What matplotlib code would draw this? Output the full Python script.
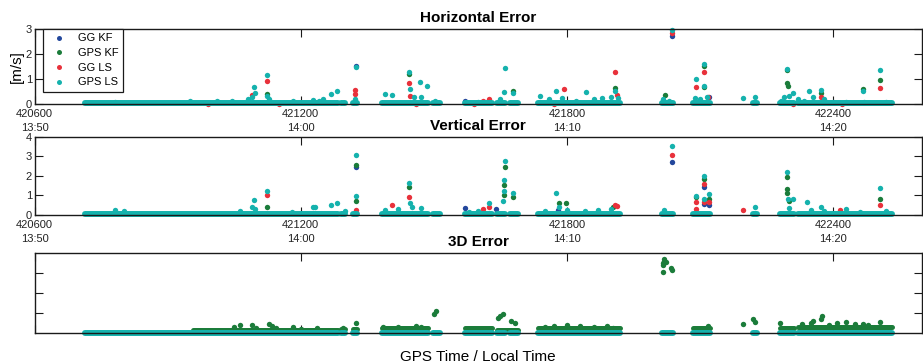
import matplotlib
matplotlib.use("Agg")
import matplotlib.pyplot as plt
from matplotlib.lines import Line2D

plt.rcParams['font.family'] = ['Liberation Sans', 'DejaVu Sans']

# ---------------- data ----------------
XLIM = (420600, 422600)
xticks = [420600, 421200, 421800, 422400]
xticklabels = ["420600\n13:50", "421200\n14:00", "421800\n14:10", "422400\n14:20"]

series_names = ["GG KF", "GPS KF", "GG LS", "GPS LS"]
series_colors = ["#23479c", "#1b7c3a", "#e8313b", "#15b2ad"]

# time intervals with continuous near-zero solutions (GPS seconds)
cover_start = [420713, 421290, 421317, 421383, 421498, 421570, 421642, 421671,
               421734, 422014, 422084, 422196, 422219, 422280, 422320]
cover_end = [421284, 421299, 421326, 421486, 421514, 421631, 421660, 421689,
             421919, 422039, 422122, 422198, 422228, 422313, 422534]
base_h = 0.04
base_v = 0.05
base_3d = 0.0

# 3D GPS KF near-baseline band: intervals and levels
g3_start = [420957, 421290, 421317, 421383, 421570, 421642, 421734, 422084, 422280, 422320]
g3_end = [421284, 421299, 421326, 421486, 421631, 421689, 421919, 422122, 422313, 422534]
g3_level = [0.12, 0.18, 0.18, 0.22, 0.24, 0.12, 0.26, 0.26, 0.22, 0.27]

# ---- Horizontal error ----
h_ggkf_t = [421324, 422037, 422120, 421571]
h_ggkf_v = [1.52, 2.72, 0.28, 0.15]

h_gpskf_t = [421124, 421444, 421679, 421908, 422021, 422109, 422109, 422296, 422296,
             422298, 422374, 422467, 422507]
h_gpskf_v = [0.40, 1.21, 0.54, 0.66, 0.37, 1.54, 0.68, 1.37, 0.84, 0.73, 0.44, 0.61, 0.955]

h_ggls_t = [421090, 421124, 421322, 421322, 421444, 421446, 421794, 421908, 421912,
            422037, 422090, 422109, 422374, 422507, 421610, 421625, 422118,
            420990, 421150, 421460, 421590, 421770, 422310, 422420]
h_ggls_v = [0.37, 0.93, 0.57, 0.40, 0.86, 0.33, 0.60, 1.30, 0.36, 2.83, 0.68, 1.30,
            0.28, 0.64, 0.15, 0.20, 0.30,
            0.02, 0.03, 0.02, 0.03, 0.02, 0.02, 0.02]

h_gpsls_t = [421094, 421097, 421124, 421124, 421324, 421322, 421389, 421405, 421444,
             421446, 421468, 421485, 421661, 421658, 421679, 421740, 421776, 421842,
             421908, 422037, 422090, 422109, 422109, 422310, 422296, 422346, 422374,
             422467, 422507,
             421080, 421089, 421129, 421182, 421227, 421240, 421250, 421267, 421282,
             421455, 421470, 421502, 421600, 421650, 421760, 421790, 421820, 421860,
             421880, 421900, 421915, 422017, 422030, 422088, 422100, 422115, 422197,
             422223, 422282, 422290, 422300, 422320, 422335, 422355, 422380, 422400,
             422430, 422470, 422520, 420780, 420950, 421010, 421045]
h_gpsls_v = [0.70, 0.46, 1.155, 0.35, 1.50, 0.21, 0.41, 0.37, 1.30,
             0.61, 0.90, 0.74, 1.46, 0.49, 0.46, 0.33, 0.54, 0.50,
             0.54, 2.98, 0.995, 1.59, 0.74, 0.44, 1.41, 0.53, 0.57,
             0.54, 1.37,
             0.20, 0.28, 0.20, 0.12, 0.18, 0.15, 0.20, 0.40, 0.54,
             0.30, 0.28, 0.15, 0.10, 0.20, 0.20, 0.25, 0.15, 0.20,
             0.25, 0.30, 0.25, 0.20, 0.15, 0.25, 0.20, 0.30, 0.25,
             0.30, 0.15, 0.30, 0.35, 0.20, 0.15, 0.30, 0.20, 0.10,
             0.10, 0.10, 0.10, 0.10, 0.12, 0.12, 0.15]

# ---- Vertical error ----
v_ggkf_t = [421324, 421571, 421641, 421780, 422037, 422109, 422109, 422120]
v_ggkf_v = [2.47, 0.34, 0.30, 0.26, 2.69, 1.44, 0.56, 0.53]

v_gpskf_t = [421124, 421324, 421324, 421444, 421660, 421658, 421658, 421679, 421782,
             421799, 421904, 422090, 422109, 422120, 422296, 422296, 422296, 422300,
             422507]
v_gpskf_v = [0.39, 2.55, 0.73, 1.41, 2.43, 1.53, 1.00, 0.90, 0.63,
             0.63, 0.39, 0.90, 1.84, 0.82, 1.96, 1.33, 1.11, 0.71,
             0.82]

v_ggls_t = [421124, 421324, 421405, 421444, 421610, 421625, 421908, 421912, 422037,
            422090, 422090, 422109, 422109, 422120, 422197, 422415, 422507]
v_ggls_v = [1.02, 0.28, 0.51, 0.90, 0.30, 0.42, 0.51, 0.45, 3.06,
            0.68, 0.30, 1.58, 0.68, 0.68, 0.26, 0.25, 0.51]

v_gpsls_t = [421094, 421124, 420781, 420801, 421227, 421324, 421324, 421231, 421267,
             421282, 421444, 421446, 421450, 421470, 421625, 421660, 421658, 421658,
             421656, 421679, 421776, 421782, 422037, 422090, 422109, 422109, 422120,
             422223, 422296, 422298, 422310, 422341, 422374, 422507, 422430,
             421063, 421090, 421097, 421180, 421300, 421390, 421420, 421580, 421600,
             421750, 421800, 421840, 421870, 421900, 422020, 422300, 422350, 422380,
             422460, 422520]
v_gpsls_v = [0.77, 1.22, 0.26, 0.22, 0.39, 3.08, 0.97, 0.39, 0.51,
             0.60, 1.62, 0.63, 0.40, 0.35, 0.63, 2.75, 1.79, 1.24,
             0.71, 1.11, 1.11, 0.40, 3.54, 0.97, 2.00, 0.80, 1.05,
             0.39, 2.21, 0.82, 0.82, 0.68, 0.39, 1.36, 0.30,
             0.20, 0.40, 0.30, 0.15, 0.20, 0.25, 0.30, 0.15, 0.20,
             0.20, 0.25, 0.20, 0.25, 0.30, 0.25, 0.35, 0.25, 0.20,
             0.15, 0.20]

# ---- 3D error ----
d_gpskf_t = [421063, 421089, 421129, 421182, 421236, 421295, 421324, 421386, 421504,
             421501, 421645, 421649, 421656, 421675, 421682, 421904, 422018, 422017,
             422016, 422017, 422020, 422024, 422034, 422038, 422118, 422197, 422220,
             422225, 422280, 422355, 422374, 422376, 422430, 422467, 422507,
             421050, 421100, 421135, 421145, 421200, 421420, 421460, 421470, 421750,
             421770, 421800, 421830, 421860, 421890, 422330, 422350, 422390, 422410,
             422450, 422480]
d_gpskf_v = [0.39, 0.39, 0.44, 0.27, 0.25, 0.22, 0.47, 0.27, 1.09,
             0.94, 0.72, 0.84, 0.94, 0.60, 0.47, 0.25, 3.70, 3.50,
             3.41, 3.07, 3.63, 3.58, 3.24, 3.16, 0.35, 0.42, 0.67,
             0.55, 0.47, 0.60, 0.67, 0.84, 0.55, 0.42, 0.55,
             0.30, 0.25, 0.35, 0.25, 0.20, 0.30, 0.35, 0.30, 0.30,
             0.35, 0.40, 0.35, 0.30, 0.35, 0.45, 0.50, 0.40, 0.50,
             0.45, 0.40]

# ---------------- figure ----------------
W, H = 923, 363
fig = plt.figure(figsize=(W / 100, H / 100), dpi=100)

left = 34.7 / W
width = (921.7 - 34.7) / W
def pos(top_px, bot_px):
    return [left, 1 - bot_px / H, width, (bot_px - top_px) / H]

ax1 = fig.add_axes(pos(29.0, 104.3))
ax2 = fig.add_axes(pos(136.7, 215.0))
ax3 = fig.add_axes(pos(253.3, 332.7))

S = 15
BAND_LW = 4.3
spine_col = "#1a1a1a"

def style(ax, ylim, yticks, ylabels, show_x=True):
    ax.set_xlim(*XLIM)
    ax.set_ylim(*ylim)
    ax.set_xticks(xticks)
    if show_x:
        ax.set_xticklabels(xticklabels)
        for lab in ax.get_xticklabels():
            lab.set_linespacing(1.5)
    else:
        ax.set_xticklabels([])
    ax.set_yticks(yticks)
    if ylabels is None:
        ax.set_yticklabels([])
    ax.tick_params(direction='in', length=5.5, width=0.8, top=True, right=True,
                   labelsize=8, colors=spine_col, labelcolor="#222222")
    ax.tick_params(axis='x', pad=3.5)
    ax.tick_params(axis='y', pad=2)
    for sp in ax.spines.values():
        sp.set_linewidth(1.0)
        sp.set_color(spine_col)
        sp.set_zorder(7)

def band(ax, starts, ends, level, color, z, lw=BAND_LW):
    if isinstance(level, (int, float)):
        level = [level] * len(starts)
    lc = ax.hlines(level, starts, ends, colors=color, linewidth=lw,
                   capstyle='round', zorder=z)
    lc.set_clip_on(False)

c_b, c_g, c_r, c_c = series_colors

# Horizontal
ax1.scatter(h_ggkf_t, h_ggkf_v, s=S, c=c_b, linewidths=0, zorder=3, clip_on=False)
ax1.scatter(h_gpskf_t, h_gpskf_v, s=S, c=c_g, linewidths=0, zorder=4, clip_on=False)
ax1.scatter(h_ggls_t, h_ggls_v, s=S, c=c_r, linewidths=0, zorder=5, clip_on=False)
band(ax1, cover_start, cover_end, base_h, c_c, 5.5)
ax1.scatter(h_gpsls_t, h_gpsls_v, s=S, c=c_c, linewidths=0, zorder=6, clip_on=False)
style(ax1, (0, 3), [0, 1, 2, 3], True)
ax1.set_title("Horizontal Error", fontsize=11, fontweight='bold', pad=5)
ax1.set_ylabel("[m/s]", fontsize=11, labelpad=1)

handles = [Line2D([], [], linestyle='none', marker='o', markersize=3.6,
                  markerfacecolor=c, markeredgewidth=0) for c in series_colors]
leg = ax1.legend(handles, series_names, loc='upper left',
                 bbox_to_anchor=(0.0097, 1.0), borderaxespad=0, fontsize=8,
                 frameon=True, fancybox=False, edgecolor=spine_col,
                 framealpha=1, labelspacing=0.42, handlelength=2.0,
                 handletextpad=0.7, borderpad=0.4)
leg.get_frame().set_linewidth(0.9)
leg.set_zorder(10)

# Vertical
ax2.scatter(v_ggkf_t, v_ggkf_v, s=S, c=c_b, linewidths=0, zorder=3, clip_on=False)
ax2.scatter(v_gpskf_t, v_gpskf_v, s=S, c=c_g, linewidths=0, zorder=4, clip_on=False)
ax2.scatter(v_ggls_t, v_ggls_v, s=S, c=c_r, linewidths=0, zorder=5, clip_on=False)
band(ax2, cover_start, cover_end, base_v, c_c, 5.5)
ax2.scatter(v_gpsls_t, v_gpsls_v, s=S, c=c_c, linewidths=0, zorder=6, clip_on=False)
style(ax2, (0, 4), [0, 1, 2, 3, 4], True)
ax2.set_title("Vertical Error", fontsize=11, fontweight='bold', pad=5)

# 3D
band(ax3, g3_start, g3_end, g3_level, c_g, 3, lw=3.6)
ax3.scatter(d_gpskf_t, d_gpskf_v, s=S, c=c_g, linewidths=0, zorder=4)
band(ax3, cover_start, cover_end, base_3d, c_c, 6)
style(ax3, (0, 4), [1, 2, 3], None, show_x=False)
ax3.set_title("3D Error", fontsize=11, fontweight='bold', pad=5)
ax3.set_xlabel("GPS Time / Local Time", fontsize=11, labelpad=9)

fig.savefig("out.png", dpi=100)
